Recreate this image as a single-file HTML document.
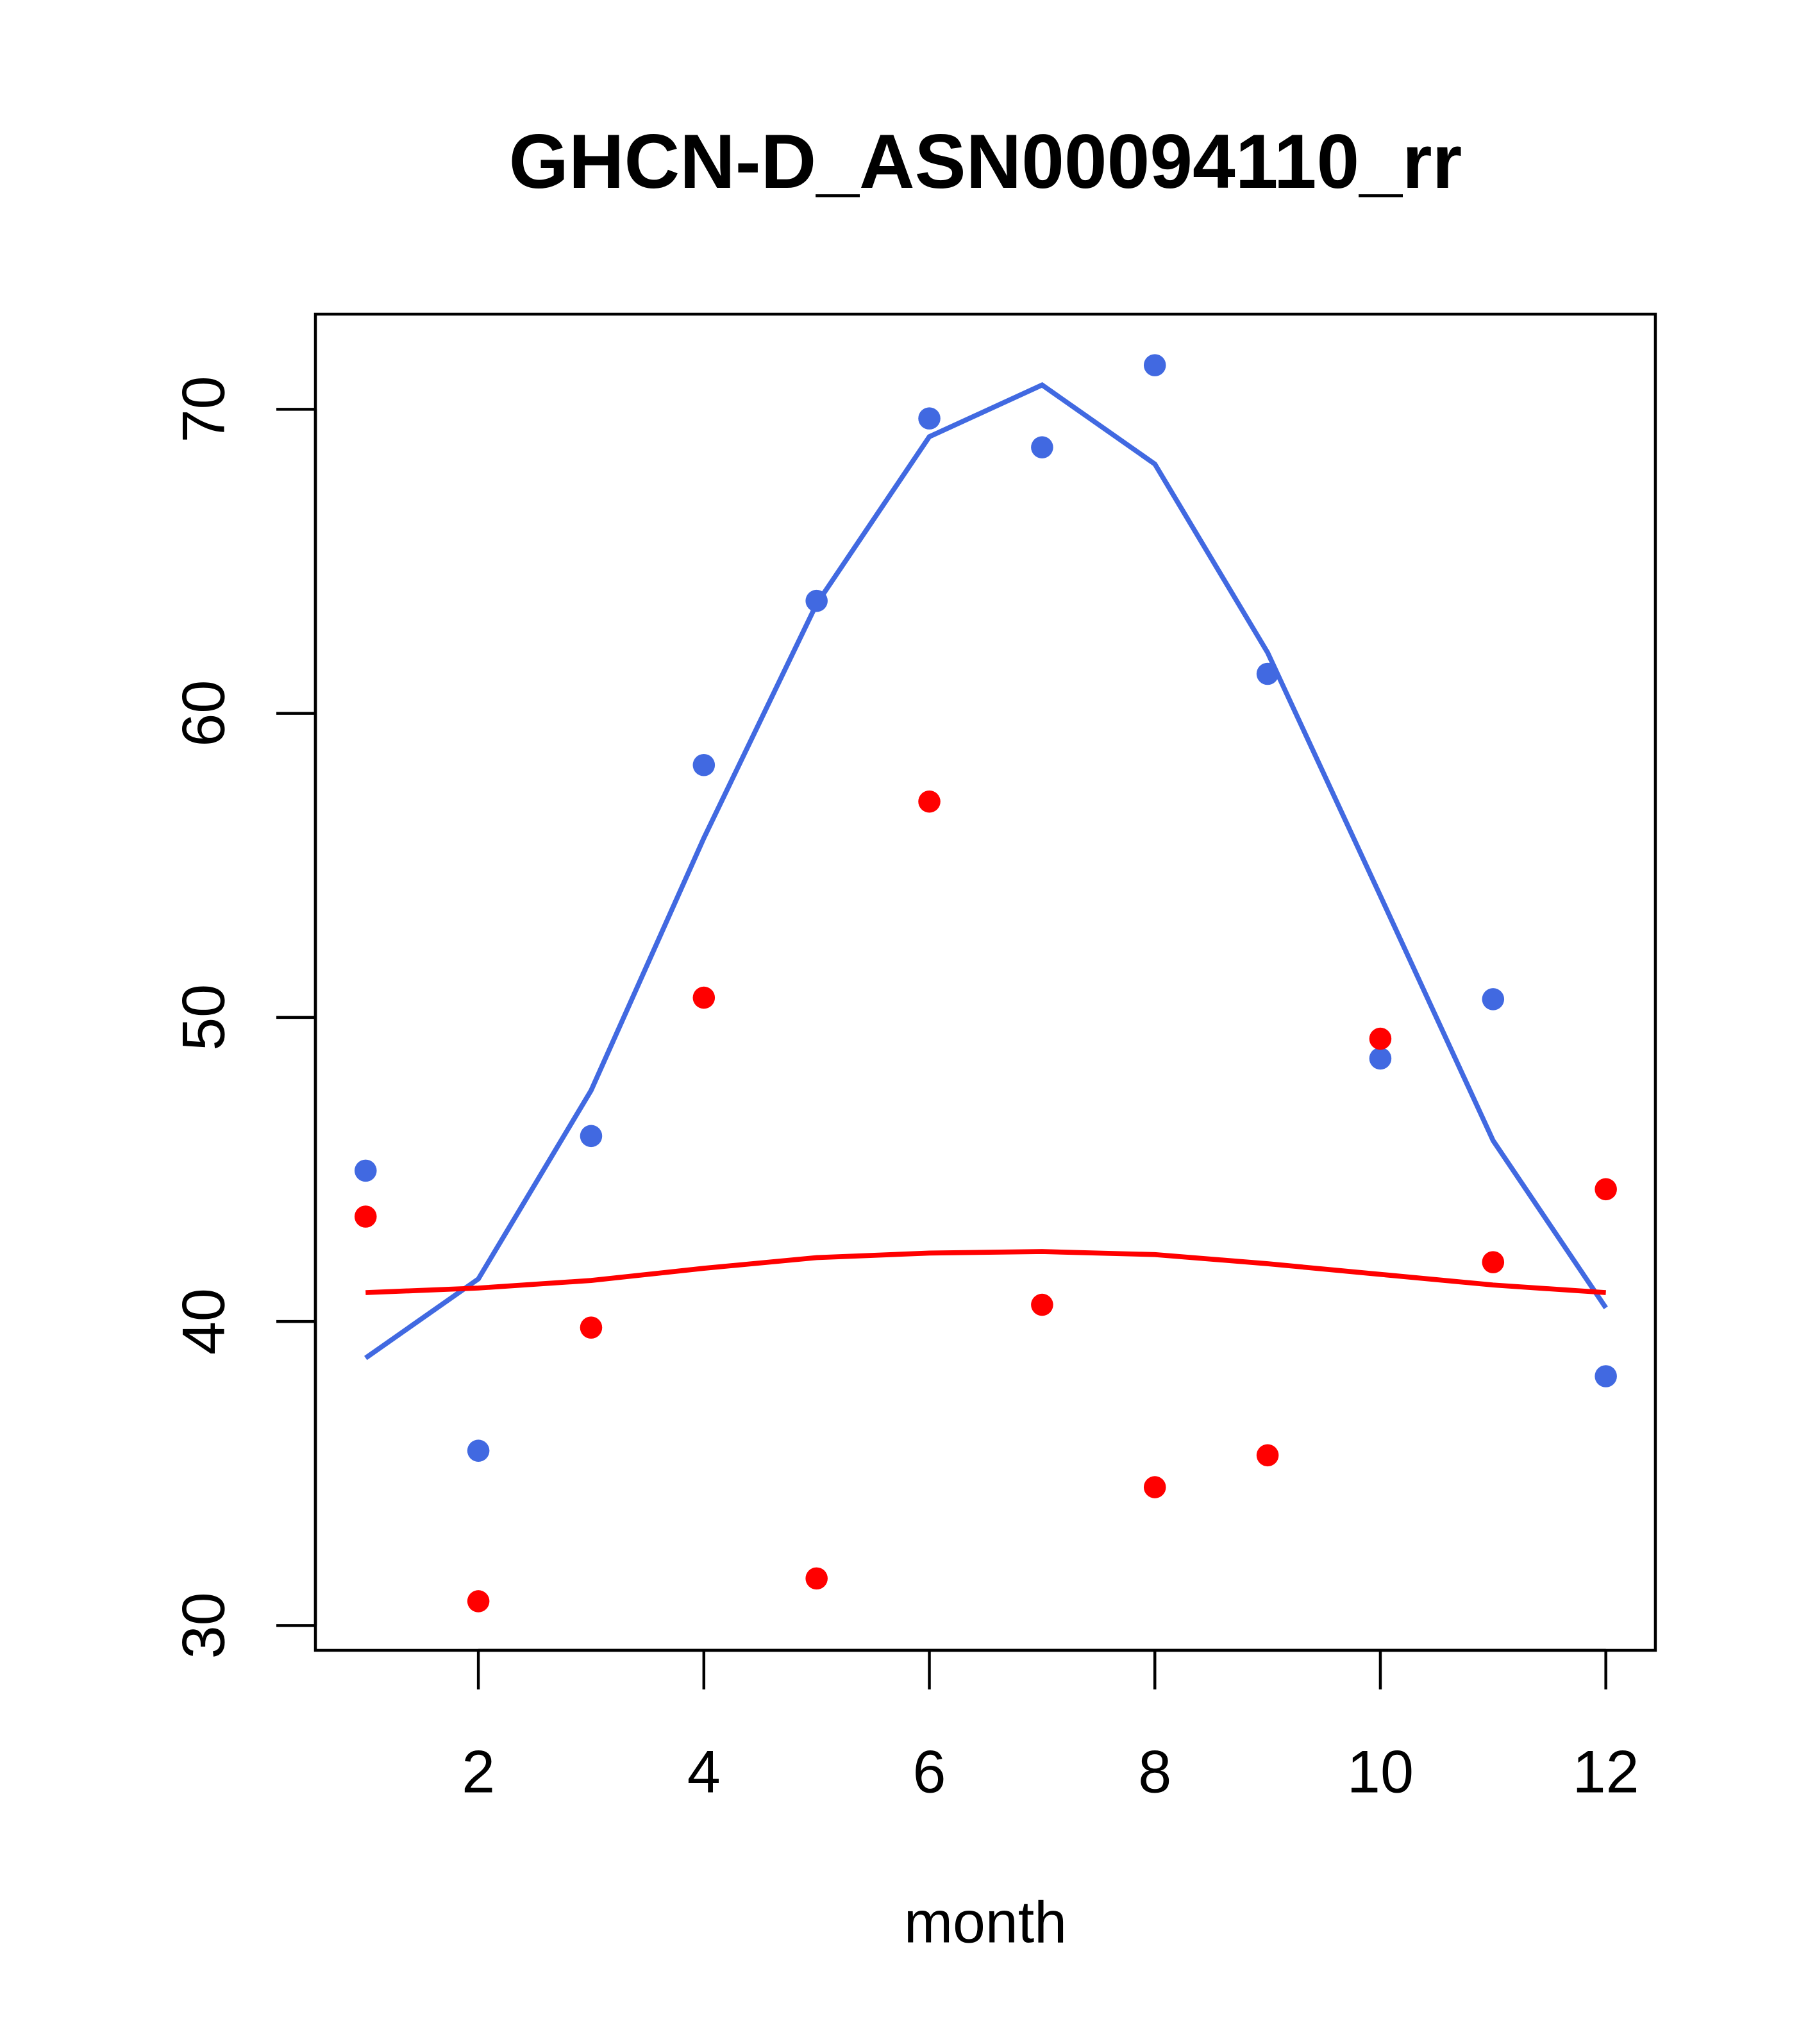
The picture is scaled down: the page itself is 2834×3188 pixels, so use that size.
<!DOCTYPE html>
<html><head><meta charset="utf-8"><style>
html,body{margin:0;padding:0;background:#fff;}
svg{display:block;}
text{font-family:"Liberation Sans",Arial,sans-serif;fill:#000;}
</style></head><body>
<svg id="chart" width="2834" height="3188" viewBox="0 0 1394 1568" preserveAspectRatio="none" xmlns="http://www.w3.org/2000/svg">
<rect width="1394" height="1568" fill="#fff"/>
<text x="756" y="144" font-size="59" font-weight="bold" text-anchor="middle">GHCN-D_ASN00094110_rr</text>
<rect x="242" y="241" width="1028" height="1025" fill="none" stroke="#000" stroke-width="2.2"/>
<text x="756" y="1490" font-size="45" text-anchor="middle">month</text>
<g id="xaxis"></g>
<g id="yaxis"></g>
<g id="series"></g>
</svg>
<script>
const months = [1,2,3,4,5,6,7,8,9,10,11,12];
const bluePoints = [44.96,35.75,46.1,58.3,63.7,69.7,68.75,71.45,61.3,48.65,50.6,38.2];
const blueLine = [38.8,41.4,47.6,55.9,63.6,69.1,70.8,68.2,62.0,54.0,45.95,40.45];
const redPoints = [43.45,30.8,39.8,50.65,31.55,57.1,40.55,34.55,35.6,49.3,41.95,44.35];
const redLine = [40.95,41.1,41.35,41.75,42.1,42.25,42.3,42.2,41.9,41.55,41.2,40.95];
const xTicks = [2,4,6,8,10,12];
const yTicks = [30,40,50,60,70];

const NS = "http://www.w3.org/2000/svg";
function X(m){ return 280.5 + 86.5*(m-1); }
function Y(v){ return 1247 - (v-30)*23.325; }
function mk(tag, attrs, parent){
  const e = document.createElementNS(NS, tag);
  for (const k in attrs) e.setAttribute(k, attrs[k]);
  parent.appendChild(e); return e;
}
const xa = document.getElementById('xaxis');
mk('line',{x1:X(2),x2:X(12),y1:1266,y2:1266,stroke:'#000','stroke-width':2.2},xa);
xTicks.forEach(t=>{
  const l = mk('line',{x1:X(t),x2:X(t),y1:1266,y2:1296,stroke:'#000','stroke-width':2.2},xa);
  
  
  const tx = mk('text',{x:X(t),y:1375,'font-size':46,'text-anchor':'middle'},xa);
  tx.textContent = t;
  
  
});
const ya = document.getElementById('yaxis');
mk('line',{x1:242,x2:242,y1:Y(30),y2:Y(70),stroke:'#000','stroke-width':2.2},ya);
yTicks.forEach(t=>{
  const l = mk('line',{x1:212,x2:242,y1:Y(t),y2:Y(t),stroke:'#000','stroke-width':2.2},ya);
  
  
  const tx = mk('text',{x:0,y:0,'font-size':46,'text-anchor':'middle',transform:`translate(172,${Y(t)}) rotate(-90)`},ya);
  tx.textContent = t;
  
  
});
const s = document.getElementById('series');
function line(vals,color,name){
  const p = mk('polyline',{points:vals.map((v,i)=>X(months[i])+','+Y(v)).join(' '),fill:'none',stroke:color,'stroke-width':3.8},s);
  
  
}
function pts(vals,color,name){
  vals.forEach((v,i)=>{
    const c = mk('circle',{cx:X(months[i]),cy:Y(v),r:8.5,fill:color},s);
    
    
  });
}
line(blueLine,'#4169E1','blue-line');
line(redLine,'#FF0000','red-line');
pts(bluePoints,'#4169E1','blue-point');
pts(redPoints,'#FF0000','red-point');
</script>
</body></html>
